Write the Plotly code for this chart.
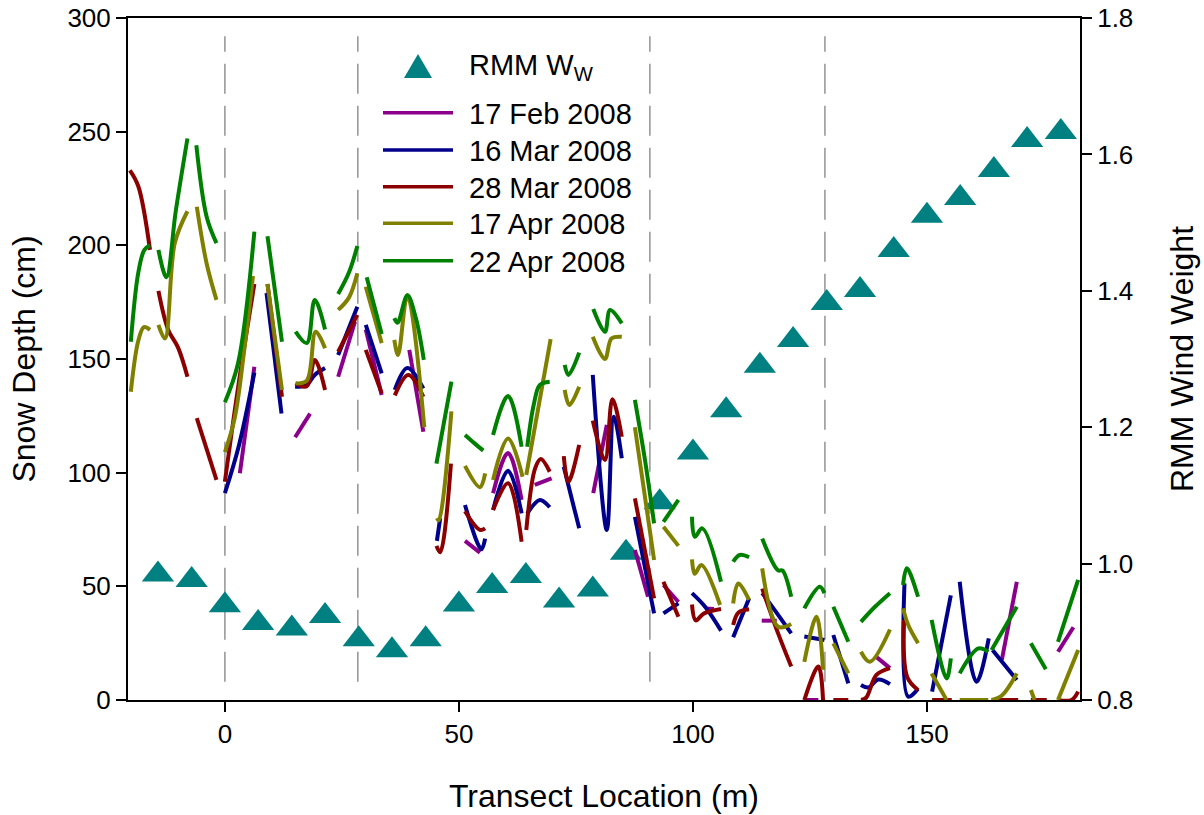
import plotly.graph_objects as go

# RMM wind-weight estimates along the transect
rmm_x = [-14.3, -7.1, 0, 7.1, 14.3, 21.4, 28.6, 35.7, 42.9, 50, 57.1, 64.3, 71.4, 78.6,
         85.7, 92.9, 100, 107.1, 114.3, 121.4, 128.6, 135.7, 142.9, 150, 157.1, 164.3,
         171.4, 178.6]
rmm_w = [0.984, 0.976, 0.939, 0.913, 0.905, 0.923, 0.889, 0.873, 0.889, 0.940, 0.967,
         0.982, 0.946, 0.962, 1.016, 1.090, 1.163, 1.225, 1.290, 1.328, 1.382, 1.401,
         1.460, 1.510, 1.536, 1.577, 1.621, 1.633]

# Snow depth (cm) per survey; None separates individual survey runs
feb17_x = [
    3.2, 6.3, None,
    15.0, 18.2, None,
    24.2, 27.8, None,
    30.1, 33.5, None,
    39.4, 42.4, None,
    51.3, 54.5, None,
    57.3, 60.5, 63.4, None,
    66.2, 69.8, None,
    78.7, 81.6, None,
    87.6, 90.4, None,
    93.7, 96.9, None,
    102.6, 104.5, None,
    114.7, 117.9, None,
    123.8, 126.8, None,
    138.9, 142.1, None,
    166.0, 169.2, None,
    178.0, 181.3,
]
feb17_y = [
    99.7, 146.6, None,
    115.6, 126.0, None,
    142.2, 166.4, None,
    163.0, 134.2, None,
    154.0, 118.0, None,
    70.0, 64.8, None,
    91.0, 108.6, 88.0, None,
    94.6, 97.5, None,
    91.0, 121.0, None,
    66.0, 45.4, None,
    50.6, 43.1, None,
    40.3, 40.0, None,
    34.9, 34.9, None,
    0.0, 0.0, None,
    19.4, 14.0, None,
    17.6, 52.0, None,
    21.2, 32.0,
]

mar16_x = [
    0.0, 3.0, 6.3, None,
    8.9, 12.1, None,
    15.0, 17.5, 19.2, 21.4, None,
    24.2, 28.3, None,
    30.1, 33.5, None,
    36.3, 39.0, 42.4, None,
    45.3, 46.0, None,
    51.3, 54.8, 55.6, None,
    57.3, 60.5, 63.4, None,
    64.6, 67.3, 69.4, None,
    72.4, 75.7, None,
    78.6, 81.6, 83.1, 84.8, None,
    87.6, 91.7, None,
    93.7, 96.9, None,
    99.8, 102.6, 106.0, None,
    108.6, 112.0, None,
    114.8, 117.2, 121.0, None,
    123.8, 128.1, None,
    130.0, 133.2, None,
    135.9, 137.5, 139.6, 142.1, None,
    145.2, 146.0, 148.1, None,
    151.1, 155.1, None,
    157.0, 160.6, 163.2, None,
    164.0, 169.2,
]
mar16_y = [
    91.0, 112.0, 144.0, None,
    179.0, 126.0, None,
    137.8, 138.6, 143.0, 146.0, None,
    151.8, 173.0, None,
    165.0, 143.7, None,
    136.4, 146.0, 137.0, None,
    70.0, 80.0, None,
    85.8, 66.3, 71.0, None,
    83.6, 100.8, 82.1, None,
    82.0, 88.0, 84.8, None,
    102.6, 75.5, None,
    143.0, 74.8, 124.6, 106.3, None,
    80.6, 38.1, None,
    38.1, 42.5, None,
    47.0, 41.0, 30.5, None,
    27.6, 44.7, None,
    47.0, 40.3, 29.3, None,
    27.9, 26.4, None,
    28.6, 7.3, None,
    6.6, 5.5, 9.0, 7.0, None,
    51.3, 1.5, 5.0, None,
    3.7, 46.0, None,
    52.0, 8.0, 27.1, None,
    22.0, 8.8,
]

mar28_x = [
    -20.3, -18.5, -16.0, None,
    -14.2, -12.1, -10.0, -8.0, None,
    -6.0, -1.8, None,
    0.0, 3.0, 6.3, None,
    9.1, 12.2, None,
    15.1, 17.5, 19.2, 21.4, None,
    24.2, 28.3, None,
    30.1, 33.5, None,
    36.3, 39.2, 42.4, None,
    45.2, 46.0, 48.3, None,
    51.3, 54.5, 55.6, None,
    57.3, 60.5, 63.4, None,
    64.4, 66.3, 67.5, 69.4, None,
    72.4, 73.4, 75.7, None,
    78.6, 81.2, 82.8, 84.8, None,
    87.6, 91.7, None,
    93.7, 96.9, None,
    99.8, 100.6, 102.3, 106.0, None,
    108.6, 109.7, 112.0, None,
    114.8, 118.2, 121.0, None,
    123.8, 126.8, 127.8, None,
    130.0, 133.2, None,
    135.9, 137.0, 139.2, 142.1, None,
    145.1, 145.8, 148.1, None,
    151.1, 155.3, None,
    163.8, 169.5, None,
    172.2, 175.6, None,
    178.0, 180.9, 182.3,
]
mar28_y = [
    233.0, 226.0, 198.0, None,
    180.0, 162.8, 155.0, 142.2, None,
    124.0, 96.8, None,
    96.0, 140.0, 183.0, None,
    183.0, 133.4, None,
    139.3, 138.0, 149.6, 136.4, None,
    153.2, 169.4, None,
    154.0, 135.0, None,
    134.0, 143.0, 133.4, None,
    67.8, 65.0, 104.0, None,
    83.0, 74.8, 75.5, None,
    83.6, 95.3, 69.6, None,
    74.8, 102.0, 106.0, 100.4, None,
    107.3, 96.0, 112.2, None,
    122.9, 105.6, 132.3, 115.8, None,
    88.7, 44.7, None,
    52.0, 36.6, None,
    42.0, 35.0, 38.0, 40.0, None,
    33.0, 38.4, 39.9, None,
    49.0, 29.3, 14.7, None,
    0.0, 14.7, 0.0, None,
    0.0, 0.0, None,
    0.0, 1.0, 11.0, 14.0, None,
    35.2, 10.0, 4.4, None,
    0.0, 0.0, None,
    0.0, 0.0, None,
    0.0, 0.0, None,
    0.0, 0.0, 3.7,
]

apr17_x = [
    -20.1, -18.5, -17.3, -16.0, None,
    -14.2, -12.8, -10.7, -8.0, None,
    -6.0, -3.9, -1.8, None,
    0.0, 2.1, 4.2, 6.0, None,
    9.1, 12.2, None,
    15.1, 17.5, 19.4, 21.4, None,
    24.2, 26.5, 28.3, None,
    30.1, 33.5, None,
    36.2, 37.0, 39.0, 42.6, None,
    45.3, 45.7, 48.4, None,
    51.3, 54.5, 55.6, None,
    57.3, 60.5, 63.6, None,
    64.4, 69.6, None,
    72.6, 73.6, 75.7, None,
    78.6, 81.2, 82.6, 84.8, None,
    87.6, 91.7, None,
    93.7, 96.9, None,
    99.8, 100.4, 101.8, 105.8, None,
    108.6, 109.7, 112.0, None,
    114.8, 118.2, 121.0, None,
    123.8, 126.4, 127.8, None,
    130.0, 133.2, None,
    135.9, 137.8, 142.1, None,
    144.9, 146.0, 148.1, None,
    151.0, 154.2, None,
    157.0, 163.1, None,
    163.8, 166.0, 169.2, None,
    172.2, 173.0, None,
    178.0, 182.3,
]
apr17_y = [
    135.6, 158.0, 164.0, 162.8, None,
    165.0, 159.0, 201.0, 215.0, None,
    217.0, 192.0, 176.0, None,
    109.0, 124.0, 155.0, 186.5, None,
    183.0, 136.4, None,
    139.3, 140.5, 162.0, 154.7, None,
    171.6, 177.0, 187.7, None,
    181.8, 157.0, None,
    158.4, 151.8, 178.0, 120.0, None,
    80.0, 79.0, 127.0, None,
    103.0, 93.6, 99.7, None,
    96.8, 115.0, 98.2, None,
    99.0, 158.7, None,
    136.4, 129.8, 137.8, None,
    159.8, 150.0, 159.0, 159.8, None,
    120.0, 61.6, None,
    76.2, 67.8, None,
    61.9, 55.5, 59.4, 41.8, None,
    42.5, 51.3, 44.0, None,
    57.9, 32.2, 33.4, None,
    16.8, 36.6, 13.2, None,
    24.9, 11.7, None,
    21.2, 16.8, 31.0, None,
    40.3, 33.0, 25.0, None,
    11.7, 0.0, None,
    0.0, 0.0, None,
    0.0, 2.0, 11.7, None,
    4.4, 0.0, None,
    0.0, 22.0,
]

apr22_x = [
    -20.1, -18.5, -17.2, -16.0, None,
    -14.2, -12.5, -10.5, -8.0, None,
    -6.1, -3.9, -1.8, None,
    0.0, 2.8, 6.3, None,
    9.1, 12.2, None,
    15.1, 17.5, 19.2, 21.4, None,
    24.2, 26.5, 28.3, None,
    30.3, 33.5, None,
    36.2, 36.9, 39.0, 40.8, 42.5, None,
    45.2, 46.8, 48.4, None,
    51.3, 53.3, 55.2, None,
    57.3, 60.5, 63.4, None,
    64.6, 66.0, 67.3, 69.4, None,
    72.6, 73.4, 75.7, None,
    78.7, 81.2, 82.3, 84.8, None,
    87.6, 89.8, 91.7, None,
    93.7, 96.9, None,
    99.8, 100.4, 102.0, 106.0, None,
    108.6, 110.0, 112.0, None,
    114.8, 118.2, 119.1, 121.0, None,
    123.8, 127.1, 128.1, None,
    130.0, 133.2, None,
    135.9, 138.9, 142.1, None,
    144.9, 145.7, 148.1, None,
    151.0, 154.2, 155.1, None,
    157.0, 161.0, 163.1, None,
    163.8, 169.2, None,
    172.2, 175.4, None,
    178.0, 182.3,
]
apr22_y = [
    157.6, 188.0, 198.0, 200.0, None,
    198.0, 186.0, 215.0, 247.0, None,
    244.0, 212.6, 201.0, None,
    131.0, 148.0, 206.0, None,
    204.0, 157.6, None,
    162.0, 157.0, 176.0, 163.0, None,
    178.6, 188.0, 199.7, None,
    186.0, 161.0, None,
    168.0, 166.0, 178.0, 168.0, 149.6, None,
    104.0, 122.0, 140.0, None,
    116.6, 113.0, 109.7, None,
    116.6, 133.7, 111.4, None,
    111.4, 130.0, 138.6, 140.0, None,
    147.4, 143.0, 152.8, None,
    172.0, 162.0, 171.6, 165.7, None,
    132.0, 105.0, 77.7, None,
    78.4, 88.0, None,
    80.6, 71.8, 75.5, 52.0, None,
    60.8, 63.8, 62.8, None,
    71.0, 57.0, 57.0, 45.4, None,
    40.3, 49.8, 47.0, None,
    41.0, 25.6, None,
    34.4, 41.0, 47.0, None,
    50.6, 58.0, 45.4, None,
    35.2, 9.5, 18.3, None,
    11.7, 22.7, 21.2, None,
    22.0, 41.0, None,
    25.0, 13.5, None,
    25.6, 52.8,
]

survey_names = ["17 Feb 2008", "16 Mar 2008", "28 Mar 2008", "17 Apr 2008", "22 Apr 2008"]
survey_x = [feb17_x, mar16_x, mar28_x, apr17_x, apr22_x]
survey_y = [feb17_y, mar16_y, mar28_y, apr17_y, apr22_y]
survey_colors = ["#8B008B", "#00008B", "#8B0000", "#808000", "#008000"]

# Section boundaries along the transect (m)
section_x = [0, 28.4, 90.8, 128.2]

FONT = "Liberation Sans, Arial, sans-serif"
TEAL = "#008080"

fig = go.Figure()

# Wind weights on the right-hand axis (drawn underneath)
fig.add_trace(go.Scatter(
    x=rmm_x, y=rmm_w, mode="markers", name="RMM Ww", yaxis="y",
    marker=dict(symbol="triangle-up", size=28, color=TEAL, line=dict(width=0)),
    showlegend=False,
))

# Snow depth on the left-hand axis
for name, xs, ys, col in zip(survey_names, survey_x, survey_y, survey_colors):
    fig.add_trace(go.Scatter(
        x=xs, y=ys, mode="lines", name=name, yaxis="y2",
        line=dict(color=col, width=4, shape="spline", smoothing=1.0),
        connectgaps=False, showlegend=False,
    ))

shapes = []
for sx in section_x:
    shapes.append(dict(type="line", xref="x", yref="y2", x0=sx, x1=sx, y0=8, y1=292,
                       line=dict(color="#9a9a9a", width=1.6, dash="30px,12px"),
                       layer="below"))

# Hand-drawn key (pixel layout converted to paper coordinates)
L, T, W, H = 128, 18, 952, 682


def px(xp):
    return (xp - L) / W


def py(yp):
    return (T + H - yp) / H


annotations = []
# triangle symbol
tx, ty, tw, th = 418, 66, 28, 24
shapes.append(dict(
    type="path", xref="paper", yref="paper",
    path=f"M {px(tx - tw / 2)},{py(ty + th / 2)} L {px(tx + tw / 2)},{py(ty + th / 2)} "
         f"L {px(tx)},{py(ty - th / 2)} Z",
    fillcolor=TEAL, line=dict(width=0),
))
annotations.append(dict(
    x=px(467), y=py(67), xref="paper", yref="paper", xanchor="left", yanchor="middle",
    text="RMM W<sub>W</sub>", showarrow=False, font=dict(family=FONT, size=29, color="black"),
))
key_rows = [112.7, 150.0, 186.7, 223.3, 260.7]
for row, name, col in zip(key_rows, survey_names, survey_colors):
    shapes.append(dict(type="line", xref="paper", yref="paper",
                       x0=px(383), x1=px(453), y0=py(row), y1=py(row),
                       line=dict(color=col, width=3.6)))
    annotations.append(dict(
        x=px(467), y=py(row + 1), xref="paper", yref="paper", xanchor="left",
        yanchor="middle", text=name, showarrow=False,
        font=dict(family=FONT, size=29, color="black"),
    ))

axis_common = dict(
    showline=True, linecolor="black", linewidth=2, ticks="outside", ticklen=10,
    tickwidth=2, tickcolor="black", showgrid=False, zeroline=False, automargin=False,
    tickfont=dict(family=FONT, size=26, color="black"),
)

fig.update_layout(
    width=1204, height=815,
    margin=dict(l=L, r=1204 - L - W, t=T, b=815 - T - H),
    paper_bgcolor="white", plot_bgcolor="white",
    font=dict(family=FONT, color="black"),
    xaxis=dict(range=[-20.7, 182.7], tickvals=[0, 50, 100, 150], mirror=True,
               title=dict(text="Transect Location (m)", standoff=36,
                          font=dict(family=FONT, size=32, color="black")),
               **axis_common),
    yaxis=dict(range=[0.8, 1.8], tickvals=[0.8, 1.0, 1.2, 1.4, 1.6, 1.8], tickformat=".1f",
               side="right",
               title=dict(text="RMM Wind Weight", standoff=38,
                          font=dict(family=FONT, size=32, color="black")),
               **axis_common),
    yaxis2=dict(range=[0, 300], tickvals=[0, 50, 100, 150, 200, 250, 300], side="left",
                overlaying="y",
                title=dict(text="Snow Depth (cm)", standoff=22,
                           font=dict(family=FONT, size=32, color="black")),
                **axis_common),
    shapes=shapes,
    annotations=annotations,
    showlegend=False,
)

fig.write_html("out.html")
